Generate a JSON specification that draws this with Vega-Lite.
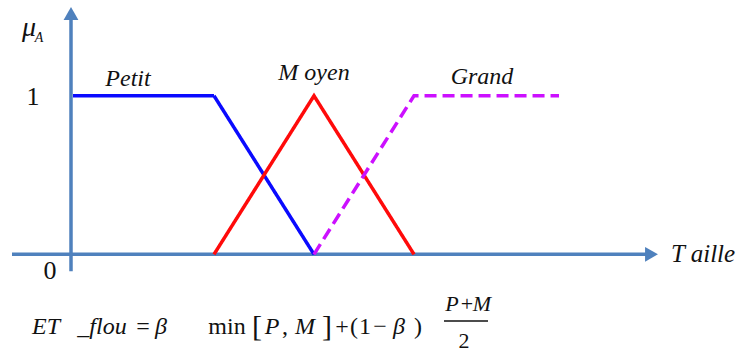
{
  "$schema": "https://vega.github.io/schema/vega-lite/v6.json",
  "width": 746,
  "height": 353,
  "padding": 0,
  "autosize": {"type": "fit", "contains": "padding"},
  "background": "white",
  "config": {"view": {"stroke": null}, "axis": {"disable": true}, "text": {"font": "'Liberation Serif', 'Times New Roman', 'DejaVu Serif', serif"}},
  "datasets": {
    "axes": [
      {"x": -0.59, "x2": 5.8, "y": 0, "y2": 0},
      {"x": 0, "x2": 0, "y": -0.107, "y2": 1.52}
    ],
    "arrows": [
      {"x": 0, "y": 1.519, "dir": "up"},
      {"x": 5.805, "y": 0, "dir": "right"}
    ],
    "curves": [
      {"set": "Petit", "o": 1, "x": 0.02, "y": 1},
      {"set": "Petit", "o": 2, "x": 1.43, "y": 1},
      {"set": "Petit", "o": 3, "x": 2.43, "y": 0},
      {"set": "Moyen", "o": 1, "x": 1.43, "y": 0},
      {"set": "Moyen", "o": 2, "x": 2.43, "y": 1},
      {"set": "Moyen", "o": 3, "x": 3.43, "y": 0},
      {"set": "Grand", "o": 1, "x": 2.43, "y": 0},
      {"set": "Grand", "o": 2, "x": 3.43, "y": 1},
      {"set": "Grand", "o": 3, "x": 4.88, "y": 1}
    ],
    "italicLabels": [
      {"t": "Petit", "x": 0.57, "y": 1.107},
      {"t": "M oyen", "x": 2.43, "y": 1.145},
      {"t": "Grand", "x": 4.11, "y": 1.12}
    ],
    "uprightLabels": [
      {"t": "1", "x": -0.38, "y": 0.99},
      {"t": "0", "x": -0.21, "y": -0.107}
    ],
    "formulaItalic": [
      {"t": "ET", "x": -0.25, "y": -0.459},
      {"t": "_flou", "x": 0.31, "y": -0.459},
      {"t": "β", "x": 0.90, "y": -0.459},
      {"t": "P", "x": 2.01, "y": -0.459},
      {"t": "M", "x": 2.34, "y": -0.459},
      {"t": "β", "x": 3.28, "y": -0.459}
    ],
    "formulaUpright": [
      {"t": "=", "x": 0.72, "y": -0.459},
      {"t": "min", "x": 1.56, "y": -0.459},
      {"t": ",", "x": 2.14, "y": -0.459},
      {"t": "+", "x": 2.71, "y": -0.459},
      {"t": "(", "x": 2.83, "y": -0.459},
      {"t": "1", "x": 2.94, "y": -0.459},
      {"t": "−", "x": 3.09, "y": -0.459},
      {"t": ")", "x": 3.47, "y": -0.459}
    ],
    "brackets": [
      {"t": "[", "x": 1.86, "y": -0.459},
      {"t": "]", "x": 2.56, "y": -0.459}
    ],
    "fracItalic": [
      {"t": "P", "x": 3.81, "y": -0.314},
      {"t": "M", "x": 4.11, "y": -0.314}
    ],
    "fracUpright": [
      {"t": "+", "x": 3.96, "y": -0.314},
      {"t": "2", "x": 3.93, "y": -0.547}
    ],
    "fracBar": [
      {"x": 3.73, "x2": 4.17, "y": -0.421, "y2": -0.421}
    ],
    "sym": [
      {"t": "μ", "x": -0.42, "y": 1.43}
    ],
    "sub": [
      {"t": "A", "x": -0.32, "y": 1.365}
    ],
    "taille": [
      {"t": "T aille", "x": 6.0, "y": 0.0}
    ]
  },
  "layer": [
    {
      "data": {"name": "axes"},
      "mark": {"type": "rule", "color": "#4f81bd", "strokeWidth": 3.5},
      "encoding": {
        "x": {"field": "x", "type": "quantitative", "scale": {"domain": [-0.71, 6.75], "nice": false, "zero": false}},
        "x2": {"field": "x2"},
        "y": {"field": "y", "type": "quantitative", "scale": {"domain": [-0.616, 1.604], "nice": false, "zero": false}},
        "y2": {"field": "y2"}
      }
    },
    {
      "data": {"name": "arrows"},
      "mark": {"type": "point", "filled": true, "color": "#4f81bd", "opacity": 1, "size": 220},
      "encoding": {
        "x": {"field": "x", "type": "quantitative"},
        "y": {"field": "y", "type": "quantitative"},
        "shape": {"field": "dir", "type": "nominal", "scale": {"domain": ["up", "right"], "range": ["triangle-up", "triangle-right"]}, "legend": null}
      }
    },
    {
      "data": {"name": "curves"},
      "mark": {"type": "line", "strokeWidth": 3.5},
      "encoding": {
        "x": {"field": "x", "type": "quantitative"},
        "y": {"field": "y", "type": "quantitative"},
        "order": {"field": "o"},
        "color": {"field": "set", "type": "nominal", "scale": {"domain": ["Petit", "Moyen", "Grand"], "range": ["#0a0aff", "#ff0a0a", "#cc10ff"]}, "legend": null},
        "strokeDash": {"field": "set", "type": "nominal", "scale": {"domain": ["Petit", "Moyen", "Grand"], "range": [[1, 0], [1, 0], [12, 6]]}, "legend": null}
      }
    },
    {
      "data": {"name": "italicLabels"},
      "mark": {"type": "text", "fontStyle": "italic", "fontSize": 24, "color": "#111111", "align": "center", "baseline": "middle"},
      "encoding": {
        "x": {"field": "x", "type": "quantitative"},
        "y": {"field": "y", "type": "quantitative"},
        "text": {"field": "t"}
      }
    },
    {
      "data": {"name": "uprightLabels"},
      "mark": {"type": "text", "fontSize": 26, "color": "#111111", "align": "center", "baseline": "middle"},
      "encoding": {
        "x": {"field": "x", "type": "quantitative"},
        "y": {"field": "y", "type": "quantitative"},
        "text": {"field": "t"}
      }
    },
    {
      "data": {"name": "formulaItalic"},
      "mark": {"type": "text", "fontStyle": "italic", "fontSize": 24, "color": "#111111", "align": "center", "baseline": "middle"},
      "encoding": {
        "x": {"field": "x", "type": "quantitative"},
        "y": {"field": "y", "type": "quantitative"},
        "text": {"field": "t"}
      }
    },
    {
      "data": {"name": "formulaUpright"},
      "mark": {"type": "text", "fontSize": 24, "color": "#111111", "align": "center", "baseline": "middle"},
      "encoding": {
        "x": {"field": "x", "type": "quantitative"},
        "y": {"field": "y", "type": "quantitative"},
        "text": {"field": "t"}
      }
    },
    {
      "data": {"name": "brackets"},
      "mark": {"type": "text", "fontSize": 30, "color": "#111111", "align": "center", "baseline": "middle"},
      "encoding": {
        "x": {"field": "x", "type": "quantitative"},
        "y": {"field": "y", "type": "quantitative"},
        "text": {"field": "t"}
      }
    },
    {
      "data": {"name": "fracItalic"},
      "mark": {"type": "text", "fontStyle": "italic", "fontSize": 22, "color": "#111111", "align": "center", "baseline": "middle"},
      "encoding": {
        "x": {"field": "x", "type": "quantitative"},
        "y": {"field": "y", "type": "quantitative"},
        "text": {"field": "t"}
      }
    },
    {
      "data": {"name": "fracUpright"},
      "mark": {"type": "text", "fontSize": 22, "color": "#111111", "align": "center", "baseline": "middle"},
      "encoding": {
        "x": {"field": "x", "type": "quantitative"},
        "y": {"field": "y", "type": "quantitative"},
        "text": {"field": "t"}
      }
    },
    {
      "data": {"name": "fracBar"},
      "mark": {"type": "rule", "color": "#111111", "strokeWidth": 1.5},
      "encoding": {
        "x": {"field": "x", "type": "quantitative"},
        "x2": {"field": "x2"},
        "y": {"field": "y", "type": "quantitative"},
        "y2": {"field": "y2"}
      }
    },
    {
      "data": {"name": "sym"},
      "mark": {"type": "text", "fontStyle": "italic", "fontSize": 28, "color": "#111111", "align": "center", "baseline": "middle"},
      "encoding": {
        "x": {"field": "x", "type": "quantitative"},
        "y": {"field": "y", "type": "quantitative"},
        "text": {"field": "t"}
      }
    },
    {
      "data": {"name": "sub"},
      "mark": {"type": "text", "fontStyle": "italic", "fontSize": 14, "color": "#111111", "align": "center", "baseline": "middle"},
      "encoding": {
        "x": {"field": "x", "type": "quantitative"},
        "y": {"field": "y", "type": "quantitative"},
        "text": {"field": "t"}
      }
    },
    {
      "data": {"name": "taille"},
      "mark": {"type": "text", "fontStyle": "italic", "fontSize": 25, "color": "#111111", "align": "left", "baseline": "middle"},
      "encoding": {
        "x": {"field": "x", "type": "quantitative"},
        "y": {"field": "y", "type": "quantitative"},
        "text": {"field": "t"}
      }
    }
  ]
}
